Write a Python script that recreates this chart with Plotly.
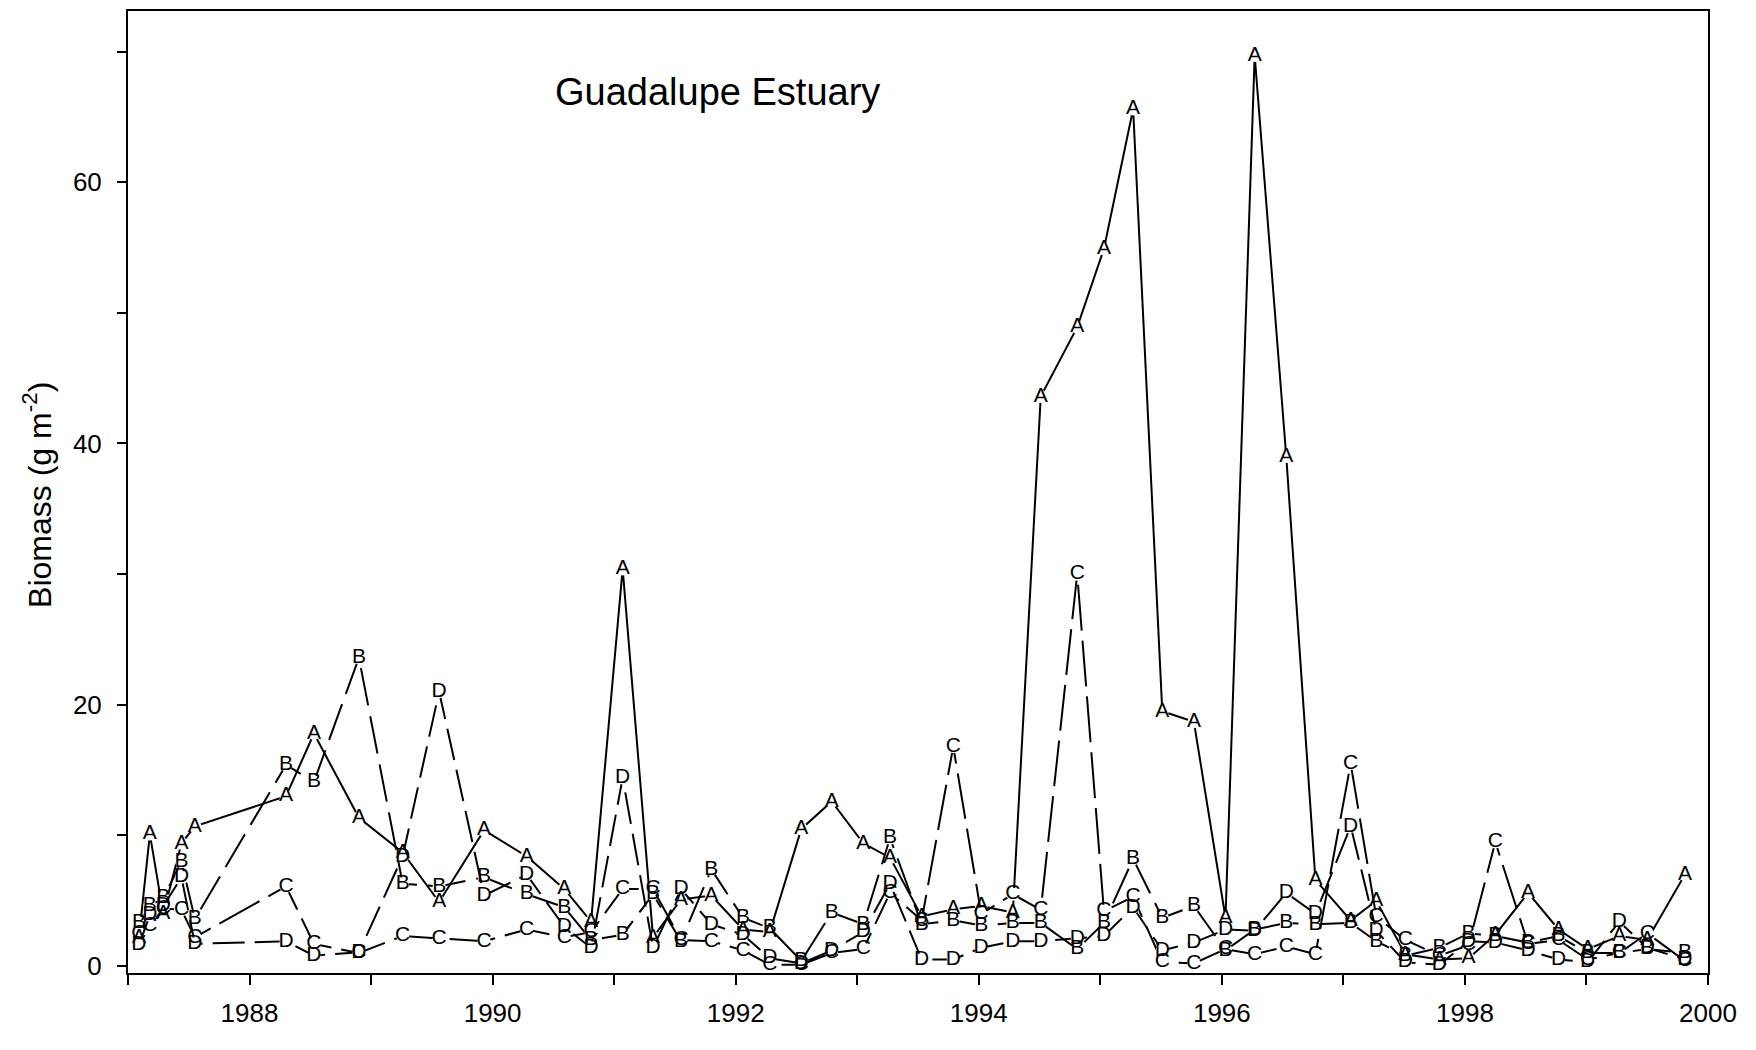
import plotly.graph_objects as go

# ---- data ----
dates = [1987.09, 1987.18, 1987.29, 1987.44, 1987.55, 1988.30, 1988.53, 1988.90, 1989.26, 1989.56,
         1989.93, 1990.28, 1990.59, 1990.81, 1991.07, 1991.32, 1991.55, 1991.80, 1992.06, 1992.28,
         1992.54, 1992.79, 1993.05, 1993.27, 1993.53, 1993.79, 1994.02, 1994.28, 1994.51, 1994.81,
         1995.03, 1995.27, 1995.51, 1995.77, 1996.03, 1996.27, 1996.53, 1996.77, 1997.06, 1997.27,
         1997.51, 1997.79, 1998.03, 1998.25, 1998.52, 1998.77, 1999.01, 1999.27, 1999.50, 1999.81]

series_A = [2.2, 10.1, 4.0, 9.4, 10.7, 13.0, 17.8, 11.35, 8.7, 4.9,
            10.4, 8.4, 5.9, 3.4, 30.4, 2.2, 5.1, 5.4, 2.8, 2.6,
            10.5, 12.6, 9.4, 8.3, 3.8, 4.35, 4.6, 4.1, 43.6, 48.9,
            54.9, 65.6, 19.5, 18.7, 3.7, 69.7, 39.0, 6.6, 3.5, 5.0,
            0.9, 0.5, 0.6, 2.4, 5.6, 2.8, 1.3, 2.3, 2.0, 7.0]

series_B = [3.3, 4.6, 5.2, 8.0, 3.6, 15.4, 14.1, 23.6, 6.3, 6.1,
            6.8, 5.5, 4.5, 2.0, 2.4, 5.5, 1.9, 7.4, 3.7, 2.9,
            0.4, 4.1, 3.2, 9.8, 3.2, 3.5, 3.1, 3.3, 3.3, 1.3,
            3.3, 8.2, 3.7, 4.6, 1.2, 2.8, 3.3, 3.2, 3.3, 1.9,
            0.8, 1.4, 2.5, 2.3, 1.8, 2.3, 1.0, 1.0, 1.3, 1.0]

series_C = [2.5, 3.1, 4.4, 4.3, 2.2, 6.1, 1.7, 1.0, 2.3, 2.1,
            1.9, 2.8, 2.2, 2.6, 5.9, 5.9, 2.0, 1.9, 1.2, 0.1,
            0.1, 1.0, 1.3, 5.6, 3.5, 16.8, 4.0, 5.5, 4.3, 30.0,
            4.2, 5.3, 0.3, 0.2, 1.3, 0.9, 1.5, 0.9, 15.5, 3.8,
            2.0, 0.8, 1.6, 9.5, 1.7, 2.0, 0.5, 1.0, 2.5, 0.4]

series_D = [1.6, 3.9, 4.6, 6.8, 1.7, 1.9, 0.8, 1.05, 8.4, 21.0,
            5.4, 7.0, 3.0, 1.4, 14.4, 1.4, 5.9, 3.2, 2.4, 0.6,
            0.2, 1.2, 2.6, 6.3, 0.5, 0.5, 1.4, 1.9, 1.9, 2.1,
            2.3, 4.5, 1.2, 1.8, 2.8, 2.7, 5.6, 4.0, 10.7, 2.7,
            0.3, 0.1, 1.9, 1.8, 1.2, 0.5, 0.3, 3.4, 1.4, 0.5]

series_names = ["A", "B", "C", "D"]
x_tick_vals = list(range(1987, 2001))
x_tick_text = ["" if y % 2 else str(y) for y in x_tick_vals]
y_tick_vals = list(range(0, 80, 10))
y_tick_text = [str(v) if v % 20 == 0 else "" for v in y_tick_vals]

title_text = "Guadalupe Estuary"
y_title = "Biomass (g m<sup>-2</sup>)"

# ---- styles ----
FONT = "Liberation Sans, Arial, Helvetica, sans-serif"
dashes = {"A": "solid", "B": "38px,11px", "C": "46px,10px", "D": "32px,10px"}

fig = go.Figure()
all_series = {"A": series_A, "B": series_B, "C": series_C, "D": series_D}

# lines with small white markers (gaps around the letter symbols)
for name in series_names:
    fig.add_trace(go.Scatter(
        x=dates, y=all_series[name], mode="lines+markers", name=name,
        line=dict(color="black", width=2, dash=dashes[name]),
        marker=dict(symbol="circle", size=13, color="white", line=dict(width=0)),
        showlegend=False, hoverinfo="skip"))

# letter symbols on top
for name in series_names:
    fig.add_trace(go.Scatter(
        x=dates, y=all_series[name], mode="text", text=[name] * len(dates),
        textposition="middle center",
        textfont=dict(family=FONT, size=21, color="black"),
        showlegend=False, hoverinfo="skip"))

fig.update_layout(
    width=1756, height=1050,
    margin=dict(l=120, r=56, t=1, b=85),
    paper_bgcolor="white", plot_bgcolor="white",
    font=dict(family=FONT, color="black"),
    xaxis=dict(range=[1987, 2000], tickvals=x_tick_vals, ticktext=x_tick_text,
               ticks="outside", ticklen=10, tickwidth=1.5, tickcolor="black",
               showline=True, linecolor="black", linewidth=2, mirror=True,
               showgrid=False, zeroline=False,
               tickfont=dict(family=FONT, size=26, color="black"),
               ticklabelstandoff=6),
    yaxis=dict(range=[-0.53, 73.1], tickvals=y_tick_vals, ticktext=y_tick_text,
               ticks="outside", ticklen=9, tickwidth=1.5, tickcolor="black",
               showline=True, linecolor="black", linewidth=2, mirror=True,
               showgrid=False, zeroline=False,
               tickfont=dict(family=FONT, size=26, color="black"),
               ticklabelstandoff=10),
    annotations=[
        dict(text=title_text, xref="paper", yref="paper", x=0.3734, y=0.916,
             xanchor="center", yanchor="middle", showarrow=False,
             font=dict(family=FONT, size=38, color="black")),
        dict(text=y_title, xref="paper", yref="paper", x=-0.0576, y=0.497,
             xanchor="center", yanchor="middle", textangle=-90, showarrow=False,
             font=dict(family=FONT, size=32, color="black")),
    ],
)

fig.write_html("out.html")
